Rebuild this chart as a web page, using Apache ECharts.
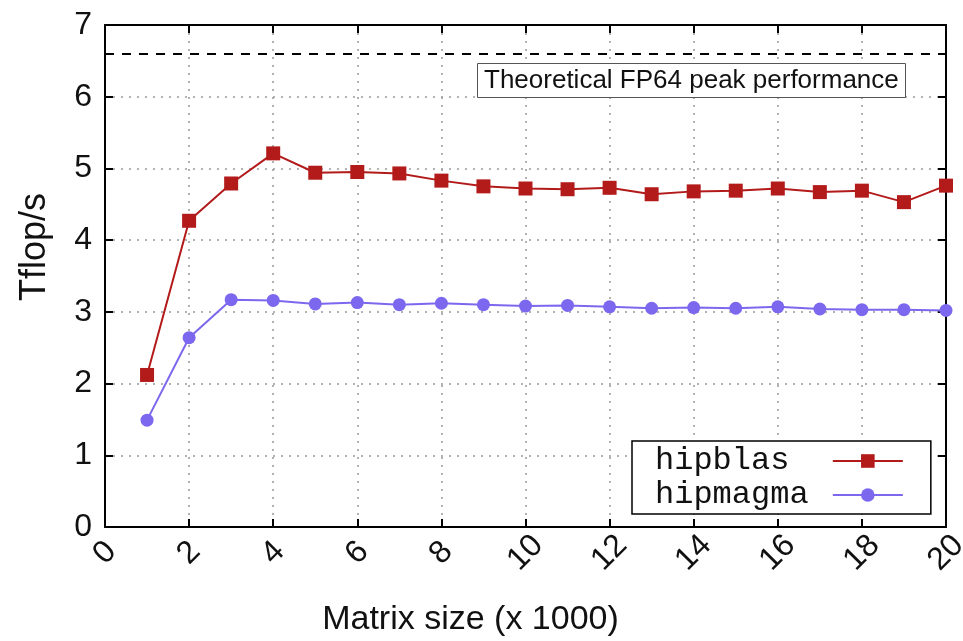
<!DOCTYPE html>
<html>
<head>
<meta charset="utf-8">
<script src="https://cdn.jsdelivr.net/npm/echarts@6/dist/echarts.min.js"></script>
<style>
  html, body { margin: 0; padding: 0; background: #fff; }
  #main { width: 963px; height: 641px; }
</style>
</head>
<body>
<div id="main"></div>
<script>
// matrix size (x 1000)
var sizes = [1, 2, 3, 4, 5, 6, 7, 8, 9, 10, 11, 12, 13, 14, 15, 16, 17, 18, 19, 20];
var hipblas = [2.12, 4.27, 4.79, 5.21, 4.94, 4.95, 4.93, 4.83, 4.75, 4.72, 4.71, 4.73, 4.64, 4.68, 4.69, 4.72, 4.67, 4.69, 4.53, 4.76];
var hipmagma = [1.49, 2.64, 3.17, 3.16, 3.11, 3.13, 3.10, 3.12, 3.10, 3.08, 3.09, 3.07, 3.05, 3.06, 3.05, 3.07, 3.04, 3.03, 3.03, 3.02];
var peakFP64 = 6.6;
var peakLabel = 'Theoretical FP64 peak performance';

var fontSans = '"Liberation Sans", Arial, sans-serif';
var fontMono = '"Liberation Mono", "DejaVu Sans Mono", monospace';

function pairs(xs, ys) {
    return xs.map(function (x, i) { return [x, ys[i]]; });
}

var myChart = echarts.init(document.getElementById('main'));

// 上边和右边的框线（只画刻度）
var frameAxis = {
    show: true,
    axisLine: { show: true, onZero: false, lineStyle: { color: '#000', width: 2 } },
    axisTick: { show: true, inside: true, length: 8, lineStyle: { color: '#000', width: 2 } },
    axisLabel: { show: false },
    splitLine: { show: false }
};

var option = {
    animation: false,
    backgroundColor: '#fff',
    title: {
        text: peakLabel,
        left: 477,
        top: 63,
        padding: [5, 7, 4, 7],
        borderWidth: 1,
        borderColor: '#555',
        backgroundColor: '#fff',
        textStyle: { fontFamily: fontSans, fontSize: 26, fontWeight: 'normal', color: '#111' }
    },
    grid: { left: 105, right: 17, top: 25, bottom: 114, outerBoundsMode: 'none', containLabel: false },
    legend: {
        orient: 'vertical',
        left: 632,
        top: 441,
        align: 'right',
        padding: [4, 27, 3, 23],
        itemGap: 2,
        itemWidth: 70,
        itemHeight: 17,
        borderColor: '#000',
        borderWidth: 1.5,
        backgroundColor: '#fff',
        // 等宽字体，补空格让图标对齐
        formatter: function (name) { return name + '         '.slice(name.length); },
        textStyle: { fontFamily: fontMono, fontSize: 32, color: '#111' },
        data: ['hipblas', 'hipmagma']
    },
    xAxis: [
        {
            type: 'value',
            min: 0,
            max: 20,
            interval: 2,
            name: 'Matrix size (x 1000)',
            nameLocation: 'middle',
            nameGap: 76,
            nameTextStyle: { fontFamily: fontSans, fontSize: 34, color: '#111', padding: [0, 110, 0, 0] },
            axisLine: { show: true, onZero: false, lineStyle: { color: '#000', width: 2 } },
            axisTick: { show: true, inside: true, length: 8, lineStyle: { color: '#000', width: 2 } },
            axisLabel: {
                rotate: 45,
                align: 'center',
                verticalAlign: 'middle',
                margin: 26,
                fontFamily: fontSans,
                fontSize: 32,
                color: '#111'
            },
            splitLine: { show: true, lineStyle: { color: '#999', type: [2, 6], width: 1.5 } }
        },
        Object.assign({ position: 'top', type: 'value', min: 0, max: 20, interval: 2 }, frameAxis)
    ],
    yAxis: [
        {
            type: 'value',
            min: 0,
            max: 7,
            interval: 1,
            name: 'Tflop/s',
            nameLocation: 'middle',
            nameGap: 52,
            nameTextStyle: { fontFamily: fontSans, fontSize: 36, color: '#111', padding: [0, 0, 0, 58] },
            axisLine: { show: true, onZero: false, lineStyle: { color: '#000', width: 2 } },
            axisTick: { show: true, inside: true, length: 8, lineStyle: { color: '#000', width: 2 } },
            axisLabel: { margin: 13, fontFamily: fontSans, fontSize: 32, color: '#111' },
            splitLine: { show: true, lineStyle: { color: '#999', type: [2, 6], width: 1.5 } }
        },
        Object.assign({ position: 'right', type: 'value', min: 0, max: 7, interval: 1 }, frameAxis)
    ],
    series: [
        {
            name: 'hipblas',
            type: 'line',
            data: pairs(sizes, hipblas),
            symbol: 'rect',
            symbolSize: 14,
            itemStyle: { color: '#b31b1b' },
            lineStyle: { color: '#b31b1b', width: 2 },
            z: 3,
            markLine: {
                silent: true,
                symbol: 'none',
                label: { show: false },
                lineStyle: { color: '#000', type: [9, 8], width: 2 },
                data: [{ yAxis: peakFP64 }]
            }
        },
        {
            name: 'hipmagma',
            type: 'line',
            data: pairs(sizes, hipmagma),
            symbol: 'circle',
            symbolSize: 13,
            itemStyle: { color: '#7b68ee' },
            lineStyle: { color: '#7b68ee', width: 2 },
            z: 3
        }
    ]
};

window.onresize = myChart.resize;
myChart.setOption(option);
</script>
</body>
</html>
